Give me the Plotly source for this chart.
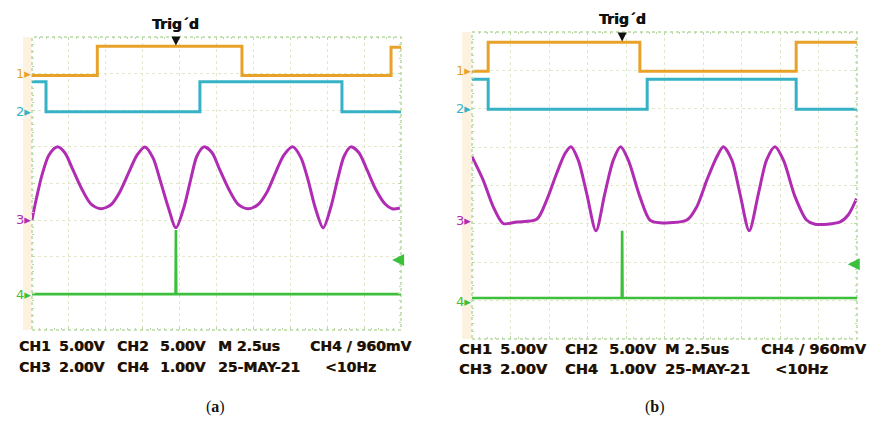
import plotly.graph_objects as go

W, H = 870, 421

# ---------------- data (units: screen divisions; x 0..10, y 0..8) ----------------
# Panel (a)
a_ch1_x = [0.0, 1.77, 5.69, 9.73, 10.0]
a_ch1_y = [6.95, 7.75, 6.95, 7.72, 7.72]
a_ch2_x = [0.0, 0.38, 4.55, 8.40, 10.0]
a_ch2_y = [6.78, 5.96, 6.78, 5.96, 5.96]
a_ch3_x = [0.00, 0.11, 0.27, 0.46, 0.68, 0.89, 1.11, 1.36, 1.60, 1.87, 2.14, 2.38, 2.63, 2.85,
           3.06, 3.28, 3.47, 3.69, 3.90, 4.12, 4.31, 4.47, 4.66, 4.88, 5.09, 5.34, 5.58, 5.85,
           6.12, 6.37, 6.61, 6.83, 7.07, 7.29, 7.48, 7.67, 7.89, 8.10, 8.29, 8.46, 8.64, 8.86,
           9.08, 9.32, 9.57, 9.76, 9.97]
a_ch3_y = [3.01, 3.55, 4.23, 4.78, 5.00, 4.84, 4.37, 3.83, 3.44, 3.31, 3.42, 3.77, 4.32, 4.78,
           5.00, 4.70, 4.10, 3.36, 2.79, 3.36, 4.15, 4.75, 5.00, 4.84, 4.37, 3.83, 3.44, 3.31,
           3.42, 3.77, 4.32, 4.78, 5.00, 4.70, 4.10, 3.36, 2.79, 3.36, 4.15, 4.75, 5.00, 4.84,
           4.37, 3.83, 3.44, 3.31, 3.33]
a_ch4_x = [0.0, 3.89, 3.90, 3.91, 10.0]
a_ch4_y = [0.98, 0.98, 2.73, 0.98, 0.98]
a_trig_x = 3.90
a_trig_level = 1.91

# Panel (b)
b_ch1_x = [0.0, 0.42, 4.36, 8.42, 10.0]
b_ch1_y = [6.98, 7.73, 6.98, 7.73, 7.73]
b_ch2_x = [0.0, 0.42, 4.55, 8.42, 10.0]
b_ch2_y = [6.77, 5.99, 6.77, 5.99, 5.99]
b_ch3_x = [0.00, 0.29, 0.55, 0.81, 1.16, 1.68, 1.94, 2.20, 2.42, 2.57, 2.76, 2.98, 3.22, 3.45,
           3.67, 3.86, 4.06, 4.36, 4.62, 4.88, 5.58, 5.84, 6.10, 6.36, 6.53, 6.75, 6.96, 7.20,
           7.44, 7.65, 7.87, 8.09, 8.39, 8.69, 8.91, 9.56, 9.77, 9.99]
b_ch3_y = [4.75, 4.14, 3.45, 3.01, 3.05, 3.12, 3.62, 4.32, 4.84, 5.01, 4.66, 3.79, 2.82, 3.79,
           4.66, 5.01, 4.66, 3.71, 3.10, 3.03, 3.10, 3.45, 4.14, 4.75, 5.01, 4.66, 3.79, 2.82,
           3.79, 4.66, 5.01, 4.66, 3.71, 3.10, 2.99, 3.05, 3.23, 3.66]
b_ch4_x = [0.0, 3.89, 3.90, 3.91, 10.0]
b_ch4_y = [1.07, 1.07, 2.82, 1.07, 1.07]
b_trig_x = 3.90
b_trig_level = 1.95

# channel ground-reference markers (divisions)
a_markers = [("1", 6.99), ("2", 5.96), ("3", 3.01), ("4", 0.98)]
b_markers = [("1", 7.0), ("2", 6.0), ("3", 3.1), ("4", 0.99)]

readout_line1 = ["CH1", "5.00V", "CH2", "5.00V", "M 2.5us", "CH4 / 960mV"]
readout_line2 = ["CH3", "2.00V", "CH4", "1.00V", "25-MAY-21", "<10Hz"]
captions = ["(<b>a</b>)", "(<b>b</b>)"]

# ---------------- styling / layout ----------------
C1, C2, C3, C4 = "#E8A22A", "#36B2C6", "#B02CB2", "#3CC03C"
GRID = "rgba(220,228,195,0.85)"
BORDER = "#B9D9A2"
TXT = "#1a1006"
SHADOW = "0.6px 0 0 rgba(90,50,0,0.8)"

panels = {
    "a": dict(x0=32, x1=401, y0=37, y1=330, strip=23),
    "b": dict(x0=472, x1=857, y0=32, y1=339, strip=462),
}

fig = go.Figure()

def add_panel(idx, ch1, ch2, ch3, ch4):
    xa = "x" if idx == 1 else "x2"
    ya = "y" if idx == 1 else "y2"
    common = dict(xaxis=xa, yaxis=ya, mode="lines", showlegend=False, hoverinfo="skip")
    fig.add_trace(go.Scatter(x=ch1[0], y=ch1[1], line=dict(color=C1, width=3, shape="hv"), **common))
    fig.add_trace(go.Scatter(x=ch2[0], y=ch2[1], line=dict(color=C2, width=3, shape="hv"), **common))
    fig.add_trace(go.Scatter(x=ch3[0], y=ch3[1], line=dict(color=C3, width=3, shape="spline", smoothing=0.8), **common))
    fig.add_trace(go.Scatter(x=ch4[0], y=ch4[1], line=dict(color=C4, width=2.6), **common))

add_panel(1, (a_ch1_x, a_ch1_y), (a_ch2_x, a_ch2_y), (a_ch3_x, a_ch3_y), (a_ch4_x, a_ch4_y))
add_panel(2, (b_ch1_x, b_ch1_y), (b_ch2_x, b_ch2_y), (b_ch3_x, b_ch3_y), (b_ch4_x, b_ch4_y))

def axis_common():
    return dict(showgrid=True, gridcolor=GRID, griddash="dot", gridwidth=1, zeroline=False,
                showticklabels=False, ticks="inside", ticklen=3, tickcolor=BORDER, dtick=1,
                minor=dict(ticks="inside", ticklen=2, tickcolor=BORDER, dtick=0.2, showgrid=False),
                showline=False, mirror="ticks", fixedrange=True)

def dom(p):
    xd = [p["x0"] / W, p["x1"] / W]
    yd = [1 - p["y1"] / H, 1 - p["y0"] / H]
    return xd, yd

xa_d, ya_d = dom(panels["a"])
xb_d, yb_d = dom(panels["b"])

fig.update_layout(
    width=W, height=H, margin=dict(l=0, r=0, t=0, b=0), autosize=False,
    paper_bgcolor="white", plot_bgcolor="white",
    xaxis=dict(domain=xa_d, range=[0, 10], anchor="y", **axis_common()),
    yaxis=dict(domain=ya_d, range=[0, 8], anchor="x", **axis_common()),
    xaxis2=dict(domain=xb_d, range=[0, 10], anchor="y2", **axis_common()),
    yaxis2=dict(domain=yb_d, range=[0, 8], anchor="x2", **axis_common()),
)

shapes = []
annotations = []
for key, xr, yr, markers, trig_x, trig_lvl, top in [
    ("a", "x", "y", a_markers, a_trig_x, a_trig_level, 7.75),
    ("b", "x2", "y2", b_markers, b_trig_x, b_trig_level, 7.73),
]:
    p = panels[key]
    shapes.append(dict(type="rect", xref="paper", yref="paper",
                       x0=p["strip"] / W, x1=(p["x0"] - 0.5) / W,
                       y0=1 - p["y1"] / H, y1=1 - p["y0"] / H,
                       fillcolor="#FDF2DF", line=dict(width=0), layer="below"))
    shapes.append(dict(type="rect", xref=xr + " domain", yref=yr + " domain", x0=0, x1=1, y0=0, y1=1,
                       line=dict(color=BORDER, width=1.5, dash="dot"), layer="below"))
    colors = [C1, C2, C3, C4]
    for (lab, lvl), col in zip(markers, colors):
        annotations.append(dict(xref="paper", yref=yr, x=(p["x0"] + 1) / W, y=lvl,
                                text=lab + "▸", showarrow=False, xanchor="right", yanchor="middle",
                                font=dict(family="DejaVu Sans", size=13, color=col)))
    annotations.append(dict(xref=xr, yref=yr, x=trig_x, y=top + 0.02, text="", showarrow=True,
                            ax=0, ay=-10, arrowhead=2, arrowsize=1, arrowwidth=1.8, arrowcolor="#111"))
    annotations.append(dict(xref=xr, yref="paper", x=trig_x, y=1 - (p["y0"] - 13) / H,
                            text="<b>Trig´d</b>", showarrow=False, xanchor="center", yanchor="middle",
                            font=dict(family="DejaVu Sans", size=14, color="#111", shadow="0.5px 0 0 #111")))
    annotations.append(dict(xref=xr, yref=yr, x=9.76, y=trig_lvl, text="", showarrow=True,
                            ax=9, ay=0, arrowhead=2, arrowsize=1.2, arrowwidth=2, arrowcolor=C4))

readout_pos = {
    "a": dict(cols1=[17, 57, 115, 158, 216, 308], cols2=[17, 57, 115, 158, 216, 323], y1=346, y2=367, size=14),
    "b": dict(cols1=[457, 498, 563, 607, 663, 759], cols2=[457, 498, 563, 607, 663, 773], y1=349, y2=369, size=14.5),
}
for key, rp in readout_pos.items():
    for line, cols, yy in [(readout_line1, rp["cols1"], rp["y1"]), (readout_line2, rp["cols2"], rp["y2"])]:
        for txt, cx in zip(line, cols):
            annotations.append(dict(xref="paper", yref="paper", x=cx / W, y=1 - yy / H, text="<b>" + txt + "</b>",
                                    showarrow=False, xanchor="left", yanchor="middle",
                                    font=dict(family="DejaVu Sans", size=rp["size"], color=TXT, shadow=SHADOW)))

for cap, cx in zip(captions, [215, 655]):
    annotations.append(dict(xref="paper", yref="paper", x=cx / W, y=1 - 407 / H, text=cap,
                            showarrow=False, xanchor="center", yanchor="middle",
                            font=dict(family="Liberation Serif", size=16, color="#111")))

fig.update_layout(shapes=shapes, annotations=annotations)
fig.write_html("out.html", config={"displayModeBar": False, "staticPlot": True},
               post_script="document.body.style.margin='0';document.body.style.overflow='hidden';")
